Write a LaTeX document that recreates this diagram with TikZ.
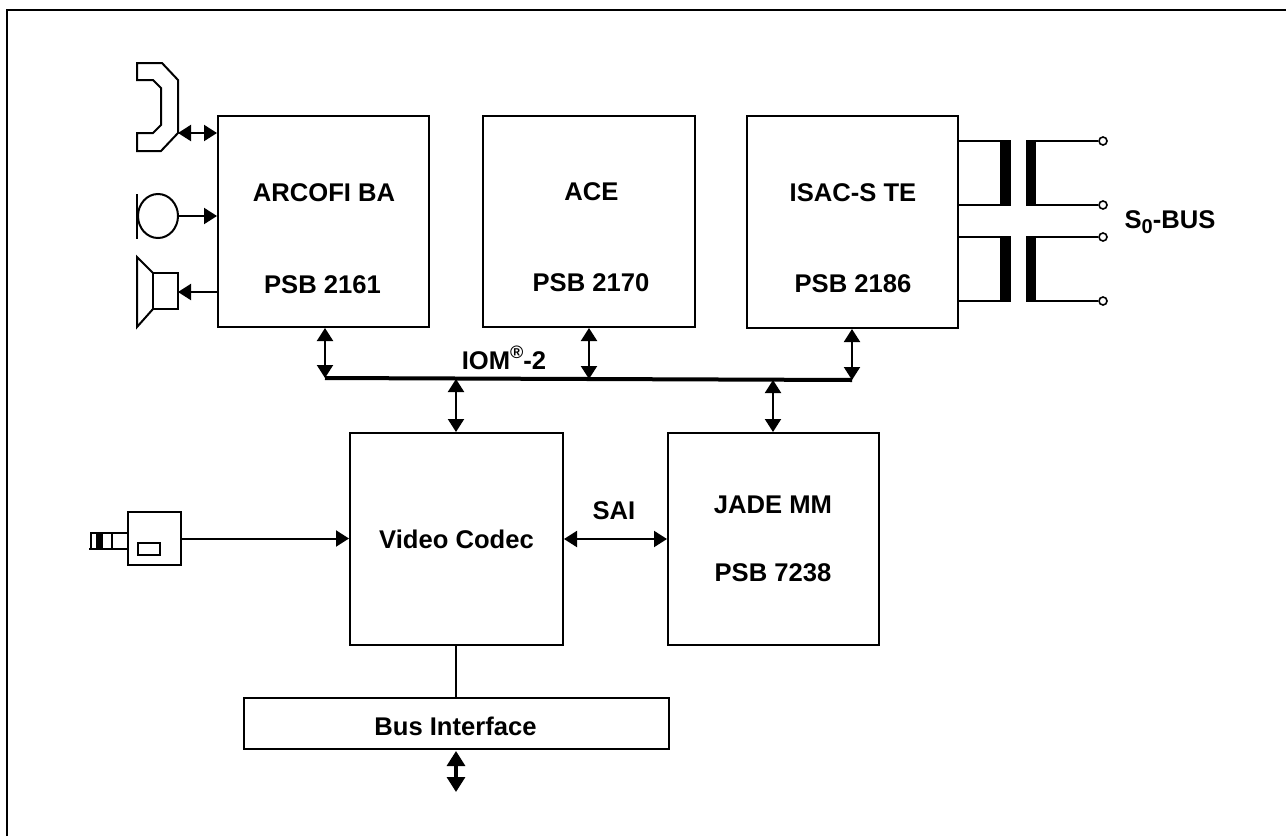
\documentclass[tikz,border=0pt]{standalone}
\usepackage{fontspec}
\setmainfont{Liberation Sans}
\usetikzlibrary{arrows.meta,shapes.geometric}
\tikzset{
  x=0.5pt,y=-0.5pt,
  line/.style={line width=1pt,draw=black},
  lbl/.style={font=\bfseries\fontsize{12.8pt}{15pt}\selectfont,inner sep=0,anchor=center},
  tip/.style={-{Triangle[length=6.5pt,width=8pt]}},
  dbl/.style={{Triangle[length=6.5pt,width=8pt]}-{Triangle[length=6.5pt,width=8pt]}},
  sym/.style={line width=1pt,draw=black,line join=miter},
  box/.style={rectangle,draw=black,line width=1pt,inner sep=0},
  term/.style={circle,draw=black,line width=0.8pt,fill=white,minimum size=4pt,inner sep=0},
}
\begin{document}
\begin{tikzpicture}
\useasboundingbox (0,0) rectangle (1286,836);
\coordinate (fb) at (7,836); \coordinate (ftl) at (7,10); \coordinate (fr) at (1286,10);
\draw[line,line join=miter] (fb) -- (ftl) -- (fr);
% blocks
\node[box,minimum width=211*0.5pt,minimum height=211*0.5pt] (arcofi) at (323.5,221.5) {};
\node[box,minimum width=212*0.5pt,minimum height=211*0.5pt] (ace) at (589,221.5) {};
\node[box,minimum width=211*0.5pt,minimum height=212*0.5pt] (isac) at (852.5,222) {};
\node[box,minimum width=213*0.5pt,minimum height=212*0.5pt] (video) at (456.5,539) {};
\node[box,minimum width=211*0.5pt,minimum height=212*0.5pt] (jade) at (773.5,539) {};
\node[box,minimum width=425*0.5pt,minimum height=51*0.5pt] (busif) at (456,723.5) {};
% labels
\node[lbl] (t1) at (324,192.5) {ARCOFI BA};
\node[lbl] (t2) at (322.5,285) {PSB 2161};
\node[lbl] (t3) at (591.5,191.5) {ACE};
\node[lbl] (t4) at (591,283) {PSB 2170};
\node[lbl] (t5) at (853,193) {ISAC-S TE};
\node[lbl] (t6) at (853,284) {PSB 2186};
\node[lbl] (t7) at (456.5,539) {Video Codec};
\node[lbl] (t8) at (773,505) {JADE MM};
\node[lbl] (t9) at (773,573) {PSB 7238};
\node[lbl] (t10) at (455.5,726) {Bus Interface};
\node[lbl] (t11) at (614,511) {SAI};
\node[lbl] (t12) at (504,358) {IOM\raisebox{0.45em}{\fontsize{9pt}{9pt}\selectfont\bfseries ®}-2};
\node[lbl] (t13) at (1170,222) {S\raisebox{-0.2em}{\fontsize{10pt}{10pt}\selectfont 0}-BUS};
% IOM bus
\coordinate (bl) at (325,378); \coordinate (br) at (852,380);
\draw[line width=2pt] (bl) -- (br);
\coordinate (acebus) at (589,379);
\coordinate (vbus) at (456,379);
\coordinate (jbus) at (773,380);
\draw[line,dbl] (arcofi.south -| bl) -- (bl);
\draw[line,dbl] (ace.south -| acebus) -- (acebus);
\draw[line,dbl] (isac.south -| br) -- (br);
\draw[line,dbl] (vbus) -- (video.north -| vbus);
\draw[line,dbl] (jbus) -- (jade.north -| jbus);
\draw[line,dbl] (video.east) -- (jade.west);
\draw[line] (video.south -| busif.north) -- (busif.north);
% bus interface arrow
\coordinate (bu) at (456,751); \coordinate (bd) at (456,792);
\draw[line width=1.6pt,{Triangle[length=7.5pt,width=9pt]}-{Triangle[length=7.5pt,width=9pt]}] (bu) -- (bd);
% handset
\coordinate (hs) at (178,133);
\draw[sym] (137,63) -- (162,63) -- (178,80) -- (178,133) -- (161,151) -- (137,151) -- (137,133) -- (153,133) -- (161,125) -- (161,88) -- (153,80) -- (137,80) -- cycle;
\draw[line,dbl] (hs) -- (arcofi.west |- hs);
% microphone
\node[ellipse,draw,line width=1pt,minimum width=40*0.5pt,minimum height=44*0.5pt,inner sep=0] (mic) at (158,216) {};
\draw[sym] (137,194) -- (137,239);
\draw[line,tip] (mic.east) -- (arcofi.west |- mic.east);
% speaker
\node[box,minimum width=25*0.5pt,minimum height=36*0.5pt] (spk) at (165.5,291) {};
\draw[sym] (153,273) -- (137,257) -- (137,327) -- (153,309);
\coordinate (spkin) at (178,292);
\draw[line,tip] (arcofi.west |- spkin) -- (spkin);
% plug
\node[box,minimum width=53*0.5pt,minimum height=53*0.5pt] (jack) at (154.5,538.5) {};
\node[box,minimum width=22*0.5pt,minimum height=12*0.5pt] (jslot) at (149,549) {};
\draw[sym] (128,533) -- (91,533) -- (91,549);
\draw[sym] (89,549) -- (128,549);
\fill (96,533) rectangle (103,549);
\draw[sym] (112,533) -- (112,549);
\draw[line,tip] (jack.east) -- (video.west |- jack.east);
% transformers
\draw[line] (958,141) -- (1002,141);
\draw[line] (958,205) -- (1002,205);
\draw[line] (958,237) -- (1002,237);
\draw[line] (958,301) -- (1002,301);
\fill (1000,140) rectangle (1011,206);
\fill (1000,236) rectangle (1011,302);
\fill (1026,140) rectangle (1036,206);
\fill (1026,236) rectangle (1036,302);
\node[term] (p1) at (1103,141) {};
\node[term] (p2) at (1103,205) {};
\node[term] (p3) at (1103,237) {};
\node[term] (p4) at (1103,301) {};
\draw[line] (1026,141) -- (p1);
\draw[line] (1026,205) -- (p2);
\draw[line] (1026,237) -- (p3);
\draw[line] (1026,301) -- (p4);
\end{tikzpicture}
\end{document}
